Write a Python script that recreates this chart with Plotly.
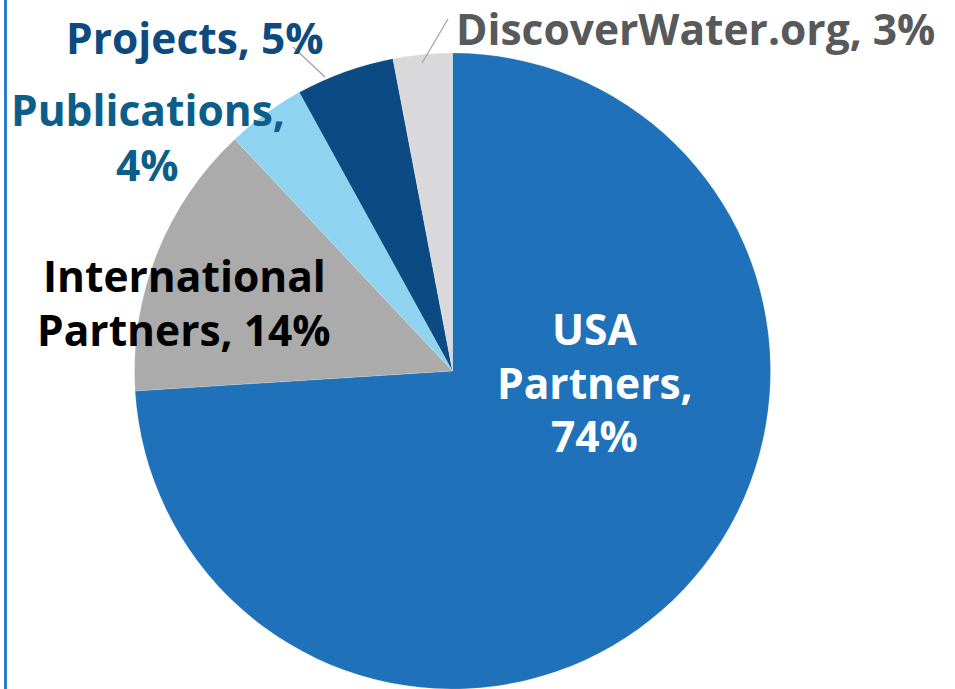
import plotly.graph_objects as go

labels = ["USA Partners", "International Partners", "Publications", "Projects", "DiscoverWater.org"]
values = [74, 14, 4, 5, 3]
colors = ["#1F72B9", "#ABABAB", "#8ED3F0", "#0B4A82", "#D9D9DB"]
# label text split into lines
label_lines = [["USA", "Partners,", "74%"],
               ["International", "Partners, 14%"],
               ["Publications,", "4%"],
               ["Projects, 5%"],
               ["DiscoverWater.org, 3%"]]
label_colors = ["#FFFFFF", "#000000", "#0B5E8A", "#0D4A80", "#58595B"]
# layout: label x-center and per-line y-centers in pixels
label_x = [594.5, 184, 147.5, 194.5, 695]
label_y = [[328, 382, 436], [275, 329], [110, 164], [37], [28]]

W, H = 955, 689

fig = go.Figure(go.Pie(
    labels=labels, values=values, sort=False, direction="clockwise", rotation=0,
    marker=dict(colors=colors, line=dict(color="rgba(255,255,255,0.3)", width=0.5)),
    textinfo="none", hoverinfo="label+percent", showlegend=False,
    domain=dict(x=[134.5 / W, 770.5 / W], y=[0, 636 / H]),
))

for lines, c, px, pys in zip(label_lines, label_colors, label_x, label_y):
    for t, py in zip(lines, pys):
        fig.add_annotation(text=t, x=px / W, y=1 - py / H, xref="paper", yref="paper",
                           showarrow=False, xanchor="center", yanchor="middle",
                           font=dict(family="Open Sans", size=42.5, color=c, weight="bold"))

# leader lines
for (x0, y0, x1, y1) in [(293, 47, 325, 77), (448, 19, 422, 63)]:
    fig.add_shape(type="line", xref="paper", yref="paper",
                  x0=x0 / W, y0=1 - y0 / H, x1=x1 / W, y1=1 - y1 / H,
                  line=dict(color="#A0A0A0", width=1.2))

# left border
fig.add_shape(type="line", xref="paper", yref="paper", x0=5.5 / W, x1=5.5 / W, y0=0, y1=1,
              line=dict(color="#2E7DC6", width=3))

fig.update_layout(width=W, height=H, margin=dict(l=0, r=0, t=0, b=0),
                  paper_bgcolor="white", plot_bgcolor="white")
fig.write_html("out.html", config={"displayModeBar": False},
               post_script="document.body.style.margin='0';document.body.style.overflow='hidden';")
